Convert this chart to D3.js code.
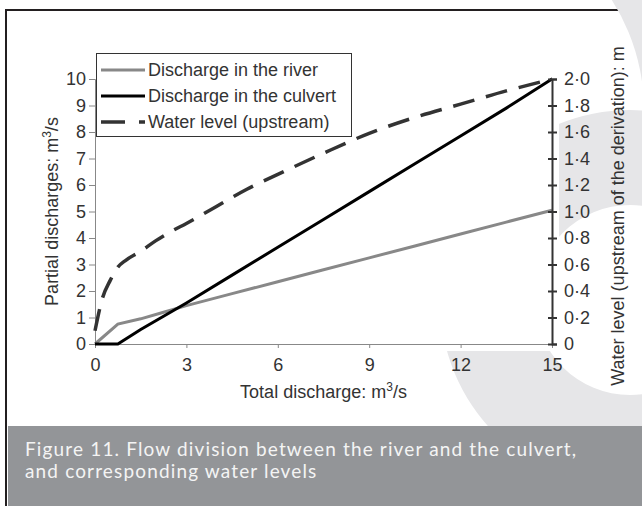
<!DOCTYPE html>
<html>
<head>
<meta charset="utf-8">
<script src="https://cdn.jsdelivr.net/npm/d3@7"></script>
<style>
  body { margin: 0; background: #fff; }
  svg { display: block; }
  text { font-family: "Liberation Sans", Arial, sans-serif; fill: #333; }
</style>
</head>
<body>
<script>
// data
var totalQ = [0, 0.75, 1.5, 2.25, 3, 4.5, 6, 7.5, 9, 10.5, 12, 13.5, 15];
var riverQ = [0, 0.75, 0.95, 1.2, 1.45, 1.9, 2.35, 2.8, 3.25, 3.7, 4.15, 4.6, 5.05];
var culvertQ = [0, 0, 0.55, 1.05, 1.55, 2.6, 3.65, 4.7, 5.75, 6.8, 7.85, 8.9, 10];
var levelX = [0, 0.25, 0.5, 0.75, 1, 1.5, 2, 2.5, 3, 4, 5, 6, 7.5, 9, 10.5, 12, 13.5, 15];
var levelH = [0.1, 0.35, 0.48, 0.58, 0.63, 0.7, 0.78, 0.85, 0.91, 1.04, 1.17, 1.28, 1.44, 1.59, 1.71, 1.81, 1.91, 2.0];
var xTicks = [0, 3, 6, 9, 12, 15];
var yTicks = [0, 1, 2, 3, 4, 5, 6, 7, 8, 9, 10];
var y2Ticks = ["0", "0·2", "0·4", "0·6", "0·8", "1·0", "1·2", "1·4", "1·6", "1·8", "2·0"];
var legendNames = ["Discharge in the river", "Discharge in the culvert", "Water level (upstream)"];
var caption = ["Figure 11. Flow division between the river and the culvert,", "and corresponding water levels"];

var svgWidth = 642, svgHeight = 506;
var margin = {top: 79, right: 90, bottom: 162, left: 95};
var width = 552 - margin.left;
var height = 344 - margin.top;

var svg = d3.select("body").append("svg")
  .attr("width", svgWidth)
  .attr("height", svgHeight);

// frame
svg.append("line").attr("x1", 6).attr("x2", 642).attr("y1", 10).attr("y2", 10).attr("stroke", "#231f20").attr("stroke-width", 2);
svg.append("line").attr("x1", 6).attr("x2", 6).attr("y1", 9).attr("y2", 506).attr("stroke", "#231f20").attr("stroke-width", 2);

// background watermark: two grey rings, then the white plot area over them
var ringColor = "#e6e6e8";
svg.append("path")
  .attr("fill", ringColor)
  .attr("d", d3.arc().innerRadius(95).outerRadius(190).startAngle(0).endAngle(2 * Math.PI)())
  .attr("transform", "translate(630,300)");
svg.append("clipPath").attr("id", "topclip")
  .append("rect").attr("x", 559).attr("y", 0).attr("width", 83).attr("height", 100);
svg.append("g").attr("clip-path", "url(#topclip)")
  .append("path")
  .attr("fill", ringColor)
  .attr("d", d3.arc().innerRadius(204).outerRadius(600).startAngle(0).endAngle(2 * Math.PI)())
  .attr("transform", "translate(440,110)");
svg.append("rect").attr("x", 8).attr("y", 12).attr("width", 551).attr("height", 339).attr("fill", "#fff");

var chart = svg.append("g").attr("transform", `translate(${margin.left}, ${margin.top})`);

var x = d3.scaleLinear().domain([0, 15]).range([0, width]);
var y = d3.scaleLinear().domain([0, 10]).range([height, 0]);
var y2 = d3.scaleLinear().domain([0, 2]).range([height, 0]);

// x axis
var xAxis = chart.append("g")
  .attr("transform", `translate(0, ${height})`)
  .call(d3.axisBottom(x).tickValues(xTicks).tickSize(4).tickPadding(10));
xAxis.select(".domain").attr("stroke", "#888");
xAxis.selectAll(".tick line").attr("stroke", "#888");
xAxis.selectAll(".tick text").style("font-size", "18px").attr("fill", "#333");

// left axis
var yAxis = chart.append("g")
  .call(d3.axisLeft(y).tickValues(yTicks).tickSize(6).tickPadding(3));
yAxis.select(".domain").attr("stroke", "#888");
yAxis.selectAll(".tick line").attr("stroke", "#888");
yAxis.selectAll(".tick text").style("font-size", "18px").attr("fill", "#333");

// lines
var river = totalQ.map((d, i) => [d, riverQ[i]]);
var culvert = totalQ.map((d, i) => [d, culvertQ[i]]);
var level = levelX.map((d, i) => [d, levelH[i]]);

var line = d3.line().x(d => x(d[0])).y(d => y(d[1]));
var line2 = d3.line().curve(d3.curveMonotoneX).x(d => x(d[0])).y(d => y2(d[1]));

chart.append("path").datum(river).attr("d", line)
  .attr("fill", "none").attr("stroke", "#888").attr("stroke-width", 3);
chart.append("path").datum(culvert).attr("d", line)
  .attr("fill", "none").attr("stroke", "#000").attr("stroke-width", 3);
chart.append("path").datum(level).attr("d", line2)
  .attr("fill", "none").attr("stroke", "#333").attr("stroke-width", 3.5)
  .attr("stroke-dasharray", "22,12");

// right axis
var y2Axis = chart.append("g")
  .attr("transform", `translate(${width}, 0)`)
  .call(d3.axisRight(y2).ticks(10).tickSize(5).tickPadding(7).tickFormat((d, i) => y2Ticks[i]));
y2Axis.select(".domain").attr("stroke", "#333").attr("stroke-width", 2);
y2Axis.selectAll(".tick line").attr("stroke", "#333").attr("stroke-width", 2).attr("x1", -4);
y2Axis.selectAll(".tick text").style("font-size", "18px").attr("fill", "#333");

// axis titles
chart.append("text")
  .attr("transform", "rotate(-90)")
  .attr("x", -height / 2).attr("y", -37)
  .style("text-anchor", "middle").style("font-size", "18px")
  .html("Partial discharges: m<tspan dy='-7' font-size='12px'>3</tspan><tspan dy='7'>/s</tspan>");
chart.append("text")
  .attr("transform", "rotate(-90)")
  .attr("x", -137).attr("y", width + 72)
  .style("text-anchor", "middle").style("font-size", "18px")
  .text("Water level (upstream of the derivation): m");
chart.append("text")
  .attr("x", width / 2).attr("y", height + 54)
  .style("text-anchor", "middle").style("font-size", "18px")
  .html("Total discharge: m<tspan dy='-7' font-size='12px'>3</tspan><tspan dy='7'>/s</tspan>");

// legend
var legend = svg.append("g");
legend.append("rect").attr("x", 96.5).attr("y", 53.5).attr("width", 255).attr("height", 83)
  .attr("fill", "#fff").attr("stroke", "#333");
var styles = [
  {stroke: "#888", w: 3, dash: null},
  {stroke: "#000", w: 3, dash: null},
  {stroke: "#333", w: 3.5, dash: "24,14"}
];
legendNames.forEach(function(name, i) {
  var ly = 70 + i * 26;
  legend.append("line").attr("x1", 101).attr("x2", 145).attr("y1", ly).attr("y2", ly)
    .attr("stroke", styles[i].stroke).attr("stroke-width", styles[i].w)
    .attr("stroke-dasharray", styles[i].dash);
  legend.append("text").attr("x", 148).attr("y", ly + 6).style("font-size", "18px").text(name);
});

// caption box
svg.append("rect").attr("x", 8).attr("y", 426).attr("width", 634).attr("height", 80).attr("fill", "#939598");
caption.forEach(function(t, i) {
  svg.append("text").attr("x", 25).attr("y", 456 + i * 22)
    .style("font-family", "Lato, 'Open Sans', sans-serif").style("font-size", "19px")
    .style("letter-spacing", "1.15px")
    .style("fill", "#f4f4f4")
    .text(t);
});
</script>
</body>
</html>
